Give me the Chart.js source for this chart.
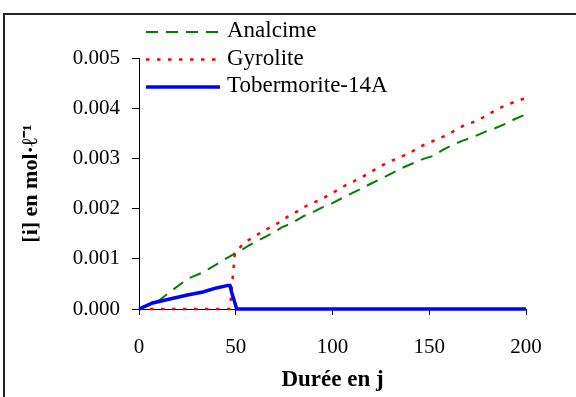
<!DOCTYPE html>
<html>
<head>
<meta charset="utf-8">
<script src="https://cdn.jsdelivr.net/npm/chart.js@4/dist/chart.umd.min.js"></script>
<style>
html,body{margin:0;padding:0;background:#fff;}
#wrap{width:576px;height:397px;position:relative;}
</style>
</head>
<body>
<div id="wrap"><canvas id="c" width="576" height="397"></canvas></div>
<script>
// ---- data ----
const seriesNames = ["Analcime", "Gyrolite", "Tobermorite-14A"];

const analcimeDays = [0, 5, 10, 15, 23, 25, 33, 37, 43, 47, 50, 54, 57, 64, 68, 74, 79, 85, 89, 95, 100, 108, 115, 120, 126, 136, 142, 147, 152, 157, 162, 167, 173, 180, 184, 190, 194, 200];
const analcimeValues = [0, 0.00007, 0.00016, 0.00031, 0.00054, 0.0006, 0.00073, 0.00082, 0.00096, 0.00105, 0.00112, 0.0012, 0.00127, 0.00141, 0.00149, 0.00163, 0.00171, 0.00185, 0.00191, 0.00203, 0.00211, 0.00227, 0.0024, 0.0025, 0.00261, 0.00281, 0.00291, 0.00299, 0.00305, 0.00317, 0.00327, 0.00335, 0.00343, 0.00355, 0.0036, 0.0037, 0.00378, 0.00388];

const gyroliteDays = [0, 47, 49.5, 54, 59, 65, 71, 76.5, 82, 88, 93.5, 100, 105, 115, 122, 128, 140, 145, 157, 162, 168.5, 174, 180, 185, 191, 196.5, 200];
const gyroliteValues = [0, 0, 0.0011, 0.00131, 0.00143, 0.00157, 0.00169, 0.00183, 0.00195, 0.00209, 0.00217, 0.00231, 0.00243, 0.00262, 0.00278, 0.00291, 0.00311, 0.00323, 0.00343, 0.00353, 0.00367, 0.00374, 0.00386, 0.00398, 0.00408, 0.00416, 0.0042];

const tobermoriteDays = [0, 7, 16, 25, 33, 40, 46, 47, 48, 50.5, 200];
const tobermoriteValues = [0, 0.00012, 0.0002, 0.00028, 0.00034, 0.00042, 0.00047, 0.00047, 0.00032, 0, 0];

const xTicks = [0, 50, 100, 150, 200];
const yTicks = [0.000, 0.001, 0.002, 0.003, 0.004, 0.005];

const xTitle = "Durée en j";
const yTitle = "[i] en mol·ℓ⁻¹";

// ---- build ----
function pts(xs, ys){ return xs.map((x,i)=>({x:x, y:ys[i]})); }

const SERIF = "'Liberation Serif','Times New Roman',serif";

const borderPlugin = {
  id:'outerBorder',
  beforeDraw(chart){
    const ctx = chart.ctx;
    ctx.save();
    ctx.fillStyle = '#fff';
    ctx.fillRect(0,0,chart.width,chart.height);
    ctx.strokeStyle = '#222';
    ctx.lineWidth = 2;
    ctx.strokeRect(4, 14, 700, 600);
    ctx.restore();
  }
};

const legendPlugin = {
  id:'customLegend',
  afterDraw(chart){
    const ctx = chart.ctx;
    ctx.save();
    const x0 = 146, x1 = 220, tx = 227;
    const ys = [32, 59.5, 87];
    chart.data.datasets.forEach((ds, i) => {
      const y = ys[i];
      ctx.strokeStyle = ds.borderColor;
      ctx.lineWidth = ds.borderWidth;
      ctx.setLineDash(ds.borderDash || []);
      ctx.beginPath();
      ctx.moveTo(x0, y);
      ctx.lineTo(x1, y);
      ctx.stroke();
      ctx.setLineDash([]);
      ctx.fillStyle = '#000';
      ctx.font = "23px " + SERIF;
      ctx.textBaseline = 'middle';
      ctx.textAlign = 'left';
      ctx.fillText(ds.label, tx, y - 1);
    });
    ctx.restore();
  }
};

new Chart(document.getElementById('c'), {
  type: 'scatter',
  data: {
    datasets: [
      { label: seriesNames[0], data: pts(analcimeDays, analcimeValues), showLine: true,
        borderColor: '#008000', borderWidth: 2, borderDash: [12, 8], pointRadius: 0, order: 2, clip: false },
      { label: seriesNames[1], data: pts(gyroliteDays, gyroliteValues), showLine: true,
        borderColor: '#ff0000', borderWidth: 2.5, borderDash: [3.5, 7.5], pointRadius: 0, order: 1, clip: false },
      { label: seriesNames[2], data: pts(tobermoriteDays, tobermoriteValues), showLine: true,
        borderColor: '#0000ff', borderWidth: 3.5, pointRadius: 0, order: 0, clip: false }
    ]
  },
  options: {
    responsive: false,
    animation: false,
    devicePixelRatio: 1,
    layout: { padding: { left: 0, right: 50, top: 58, bottom: 0 } },
    plugins: { legend: { display: false }, tooltip: { enabled: false } },
    scales: {
      x: {
        type: 'linear', min: 0, max: 200,
        afterBuildTicks(s){ s.ticks = xTicks.map(v=>({value:v})); },
        afterFit(s){ s.height = 88; },
        grid: { drawOnChartArea: false, drawTicks: true, tickLength: 6, color: '#000', tickColor: '#000' },
        border: { color: '#000', width: 1 },
        ticks: { color: '#000', font: { family: SERIF, size: 21 }, padding: 20, maxRotation: 0,
                 callback: v => String(v) },
        title: { display: true, text: xTitle, color: '#000', font: { family: SERIF, size: 23, weight: 'bold' },
                 padding: { top: 0, bottom: 3 } }
      },
      y: {
        type: 'linear', min: 0, max: 0.005,
        afterBuildTicks(s){ s.ticks = yTicks.map(v=>({value:v})); },
        afterFit(s){ s.width = 139; },
        grid: { drawOnChartArea: false, drawTicks: true, tickLength: 7, color: '#000', tickColor: '#000' },
        border: { color: '#000', width: 1 },
        ticks: { color: '#000', font: { family: SERIF, size: 21 }, padding: 12,
                 callback: v => Number(v).toFixed(3) },
        title: { display: true, text: yTitle, color: '#000', font: { family: SERIF, size: 22, weight: 'bold' },
                 padding: { top: 18, bottom: 0 } }
      }
    }
  },
  plugins: [borderPlugin, legendPlugin]
});
</script>
</body>
</html>
